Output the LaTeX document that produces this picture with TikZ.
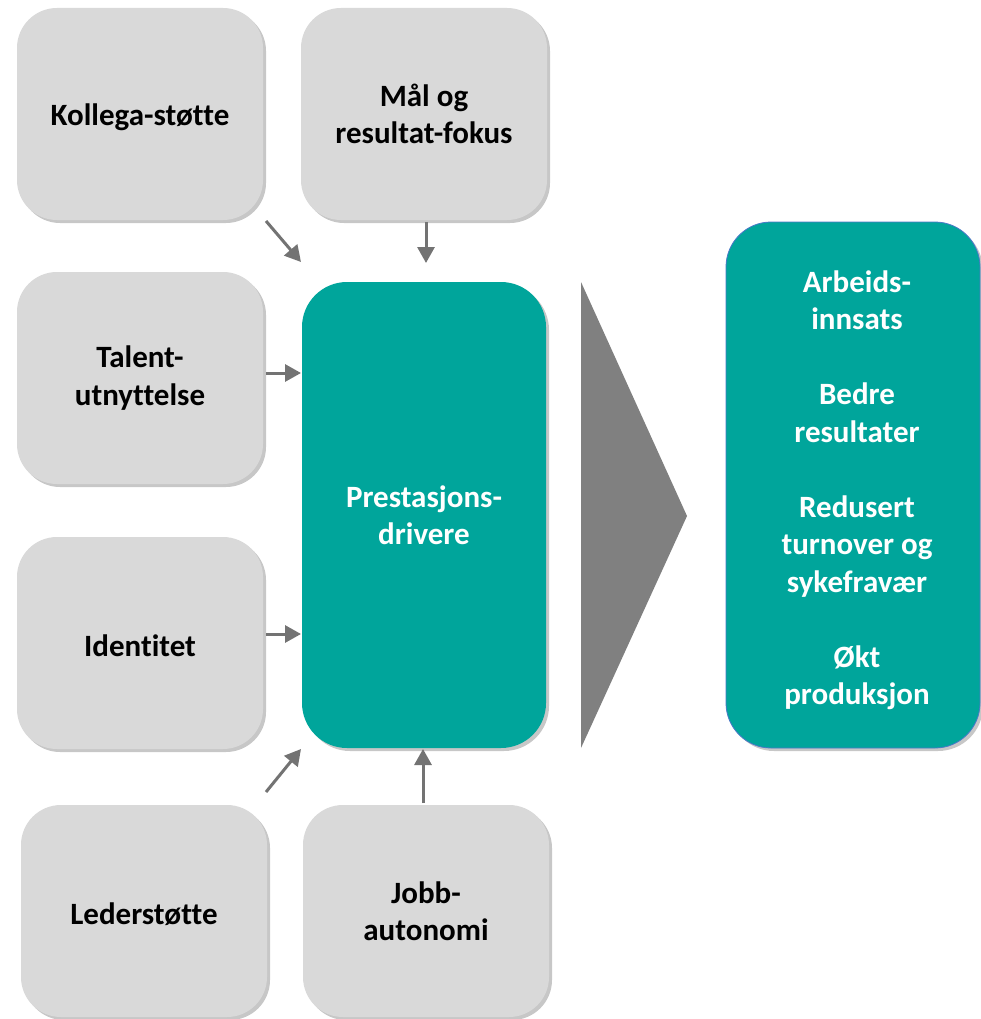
\documentclass[tikz,border=0pt]{standalone}
\usepackage{fontspec}
\setmainfont{Carlito}[Ligatures=NoCommon]
\usetikzlibrary{shadows,arrows.meta}
\definecolor{boxgray}{HTML}{D9D9D9}
\definecolor{teal1}{HTML}{00A59B}
\definecolor{arrgray}{HTML}{737373}
\definecolor{trigray}{HTML}{808080}
\definecolor{edgeblue}{HTML}{4A78C8}
\newcommand{\lowr}[1]{\raisebox{-3pt}[\height][\depth]{#1}}
\tikzset{
  shad/.style={drop shadow={shadow xshift=3pt,shadow yshift=-3pt,opacity=.22,fill=black}},
  graybox/.style={rectangle,rounded corners=40pt,fill=boxgray,shad,minimum width=246pt,minimum height=212pt,
    align=center,font=\fontsize{31}{37.5}\selectfont\bfseries,text=black,inner sep=0pt},
  tealbox/.style={rectangle,rounded corners=45pt,fill=teal1,shad,align=center,
    font=\fontsize{31}{37.5}\selectfont\bfseries,text=white,inner sep=0pt},
  arr/.style={draw=arrgray,line width=3pt,-{Triangle[length=16pt,width=17pt]}},
}
\begin{document}
\begin{tikzpicture}[x=1pt,y=-1pt]
\useasboundingbox[fill=white] (0,0) rectangle (981,1019);
\node[graybox] (kol) at (140,114) {\lowr{Kollega-støtte}};
\node[graybox] (mal) at (424,114) {Mål og\\resultat-fokus};
\node[graybox] (tal) at (140,378) {Talent-\\utnyttelse};
\node[graybox] (ide) at (140,643) {\lowr{Identitet}};
\node[graybox] (led) at (144,911) {\lowr{Lederstøtte}};
\node[graybox] (job) at (426,911) {Jobb-\\autonomi};
\node[tealbox,minimum width=244pt,minimum height=466pt] (drv) at (424,515) {Prestasjons-\\drivere};
\node[tealbox,draw=edgeblue,line width=0.8pt,minimum width=254pt,minimum height=526pt] (res) at (853,485) {};
\node[font=\fontsize{31}{37.5}\selectfont\bfseries,text=white,align=center] (restext) at (857,490)
  {Arbeids-\\innsats\\[37.5pt]Bedre\\resultater\\[37.5pt]Redusert\\turnover og\\sykefravær\\[37.5pt]Økt\\produksjon};
\coordinate (tA) at (581,282);
\coordinate (tB) at (687,516);
\coordinate (tC) at (581,748);
\fill[trigray] (tA) -- (tB) -- (tC) -- cycle;
% arrows
\coordinate (k1) at (266,221);
\coordinate (k2) at (301,262);
\draw[arr] (k1) -- (k2);
\coordinate (m1) at (426,222);
\coordinate (m2) at (426,263);
\draw[arr] (m1) -- (m2);
\coordinate (t1) at (266,373);
\coordinate (t2) at (301,373);
\draw[arr] (t1) -- (t2);
\coordinate (i1) at (266,634);
\coordinate (i2) at (301,634);
\draw[arr] (i1) -- (i2);
\coordinate (l1) at (266,792);
\coordinate (l2) at (301,749);
\draw[arr] (l1) -- (l2);
\coordinate (j1) at (423,803);
\coordinate (j2) at (423,749);
\draw[arr] (j1) -- (j2);
\end{tikzpicture}
\end{document}
